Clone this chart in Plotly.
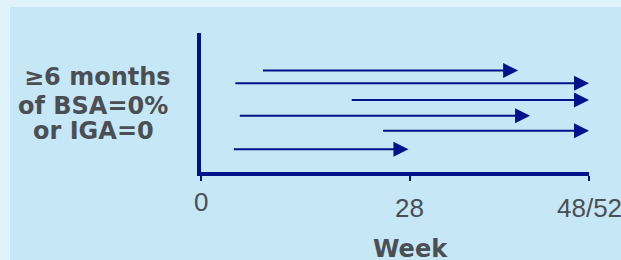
import plotly.graph_objects as go

# ---- data (weeks) ----
row_pos = [7.30, 6.38, 5.18, 4.05, 2.97, 1.63]       # vertical position of each patient row
start_week = [8.1, 4.4, 20.0, 5.0, 24.2, 4.2]
end_week = [42.5, 52.0, 52.0, 44.1, 52.0, 27.8]

tick_vals = [0, 28, 52]
tick_text = ["0", "28", "48/52"]
y_label_lines = ["\u22656 months", "of BSA=0%", "or IGA=0"]
x_title = "Week"

W, H = 621, 260
L, R, T, B = 201, 32, 33, 88
PW, PH = W - L - R, H - T - B

def px(x):
    return (x - L) / PW

def py(y):
    return (H - B - y) / PH

NAVY = "#00138a"
TXT = "#4b4f54"
OUTER = "#e0f2f9"
INNER = "#c5e7f6"

fig = go.Figure()
fig.add_trace(go.Scatter(x=[0], y=[0], mode="markers", marker=dict(opacity=0), hoverinfo="skip", showlegend=False))

anns = []
for y, s, e in zip(row_pos, start_week, end_week):
    anns.append(dict(x=e, y=y, ax=s, ay=y, xref="x", yref="y", axref="x", ayref="y",
                     text="", showarrow=True, arrowhead=2, arrowsize=1.5, arrowwidth=2,
                     arrowcolor=NAVY, standoff=0, startstandoff=0))

# tick labels
tick_y = [202.2, 207.5, 208.0]
for v, t, yy in zip(tick_vals, tick_text, tick_y):
    anns.append(dict(x=v, y=py(yy), xref="x", yref="paper", text=t, showarrow=False,
                     xanchor="center", yanchor="middle",
                     font=dict(family="Liberation Sans", size=26, color=TXT)))

# y label lines
for t, yy, xx in zip(y_label_lines, [77.3, 105.6, 131.3], [97, 93, 93]):
    anns.append(dict(x=px(xx), y=py(yy), xref="paper", yref="paper", text="<b>%s</b>" % t,
                     showarrow=False, xanchor="center", yanchor="middle",
                     font=dict(family="DejaVu Sans", size=24, color=TXT)))

anns.append(dict(x=px(410), y=py(249.3), xref="paper", yref="paper", text="<b>%s</b>" % x_title,
                 showarrow=False, xanchor="center", yanchor="middle",
                 font=dict(family="DejaVu Sans", size=24, color=TXT)))

fig.update_layout(
    width=W, height=H,
    margin=dict(l=L, r=R, t=T, b=B, pad=0),
    paper_bgcolor=OUTER, plot_bgcolor=INNER,
    showlegend=False,
    annotations=anns,
    shapes=[dict(type="rect", xref="paper", yref="paper",
                 x0=px(10), x1=px(630), y0=py(270), y1=py(7),
                 fillcolor=INNER, line=dict(width=0), layer="below")],
    xaxis=dict(range=[0, 52], showgrid=False, zeroline=False, showline=True,
               linecolor=NAVY, linewidth=4, ticks="outside", ticklen=5, tickwidth=2,
               tickcolor=NAVY, tickvals=tick_vals, showticklabels=False, fixedrange=True),
    yaxis=dict(range=[0, 10], showgrid=False, zeroline=False, showline=True,
               linecolor=NAVY, linewidth=4, ticks="", showticklabels=False, fixedrange=True),
)

fig.write_html("out.html", config={"displayModeBar": False},
               post_script="document.body.style.margin='0';document.body.style.overflow='hidden';")
